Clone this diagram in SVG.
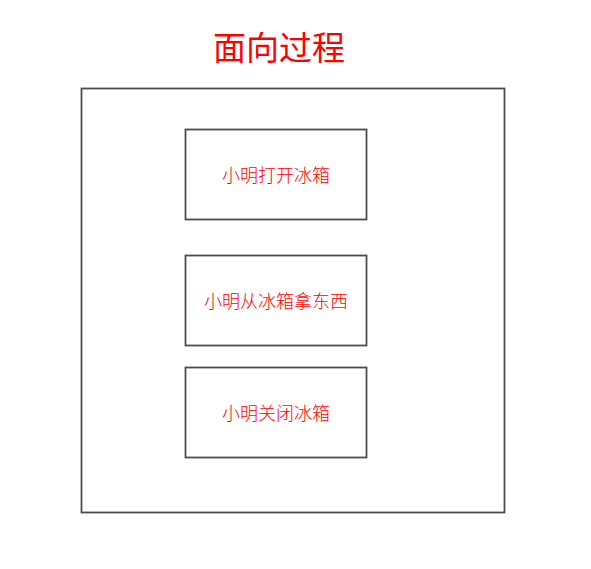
<svg xmlns="http://www.w3.org/2000/svg" width="591" height="569" viewBox="0 0 591 569">
<style>
.box{fill:#ffffff;stroke:#4d4d4d;stroke-width:1.8}
.t{font-family:"Noto Sans CJK SC","Noto Sans",sans-serif;fill:#ff0000;text-anchor:middle;dominant-baseline:central}
.lbl{font-size:18px;font-weight:300}
.title{font-size:33px}
</style>
<rect width="591" height="569" fill="#ffffff"/>
<g id="title"><text class="t title" x="279" y="46">面向过程</text></g>
<g id="container"><rect class="box" x="81.5" y="88.5" width="423" height="424"/></g>
<g id="node1"><rect class="box" x="185.5" y="129.5" width="181" height="90"/><text class="t lbl" x="276" y="174">小明打开冰箱</text></g>
<g id="node2"><rect class="box" x="185.5" y="255.5" width="181" height="90"/><text class="t lbl" x="276" y="300">小明从冰箱拿东西</text></g>
<g id="node3"><rect class="box" x="185.5" y="367.5" width="181" height="90"/><text class="t lbl" x="276" y="412">小明关闭冰箱</text></g>
<g id="connectors"></g>
</svg>
